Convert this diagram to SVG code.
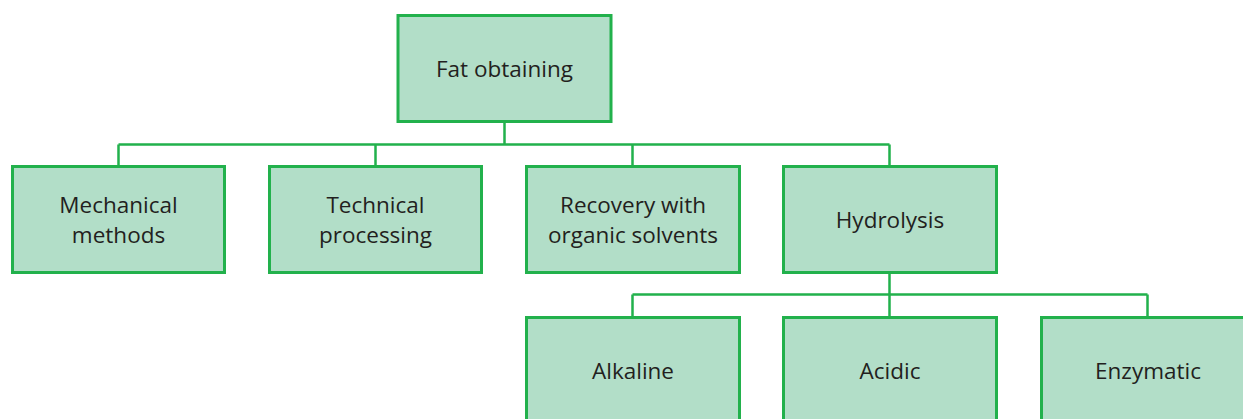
<svg xmlns="http://www.w3.org/2000/svg" width="1243" height="419" viewBox="0 0 1243 419">
<style>
.box{fill:#b2dec8;stroke:#22b14c;stroke-width:3}
.conn{fill:none;stroke:#22b14c;stroke-width:2.5}
text{font-family:"Open Sans","Liberation Sans",sans-serif;font-size:22.5px;fill:#231f20;text-anchor:middle;dominant-baseline:central}
</style>
<rect width="1243" height="419" fill="#ffffff"/>
<g id="connectors">
<path class="conn" d="M504.5 122 V144.5 M118.5 144.5 H889.5 M118.5 144.5 V167 M375.5 144.5 V167 M632.5 144.5 V167 M889.5 144.5 V167"/>
<path class="conn" d="M889.5 272 V294.5 M632.5 294.5 H1147.5 M632.5 294.5 V317 M889.5 294.5 V317 M1147.5 294.5 V317"/>
</g>
<g id="fat-obtaining"><rect class="box" x="398" y="15.5" width="213" height="106"/><text x="504.5" y="68">Fat obtaining</text></g>
<g id="mechanical"><rect class="box" x="12.5" y="166.5" width="212" height="106"/><text x="118.5" y="204">Mechanical</text><text x="118.5" y="234">methods</text></g>
<g id="technical"><rect class="box" x="269.5" y="166.5" width="212" height="106"/><text x="375.5" y="204">Technical</text><text x="375.5" y="234">processing</text></g>
<g id="recovery"><rect class="box" x="526.5" y="166.5" width="213" height="106"/><text x="633" y="204">Recovery with</text><text x="633" y="234">organic solvents</text></g>
<g id="hydrolysis"><rect class="box" x="783.5" y="166.5" width="213" height="106"/><text x="890" y="219">Hydrolysis</text></g>
<g id="alkaline"><rect class="box" x="526.5" y="317.5" width="213" height="106"/><text x="633" y="370">Alkaline</text></g>
<g id="acidic"><rect class="box" x="783.5" y="317.5" width="213" height="106"/><text x="890" y="370">Acidic</text></g>
<g id="enzymatic"><rect class="box" x="1041.5" y="317.5" width="213" height="106"/><text x="1148" y="370">Enzymatic</text></g>
</svg>
